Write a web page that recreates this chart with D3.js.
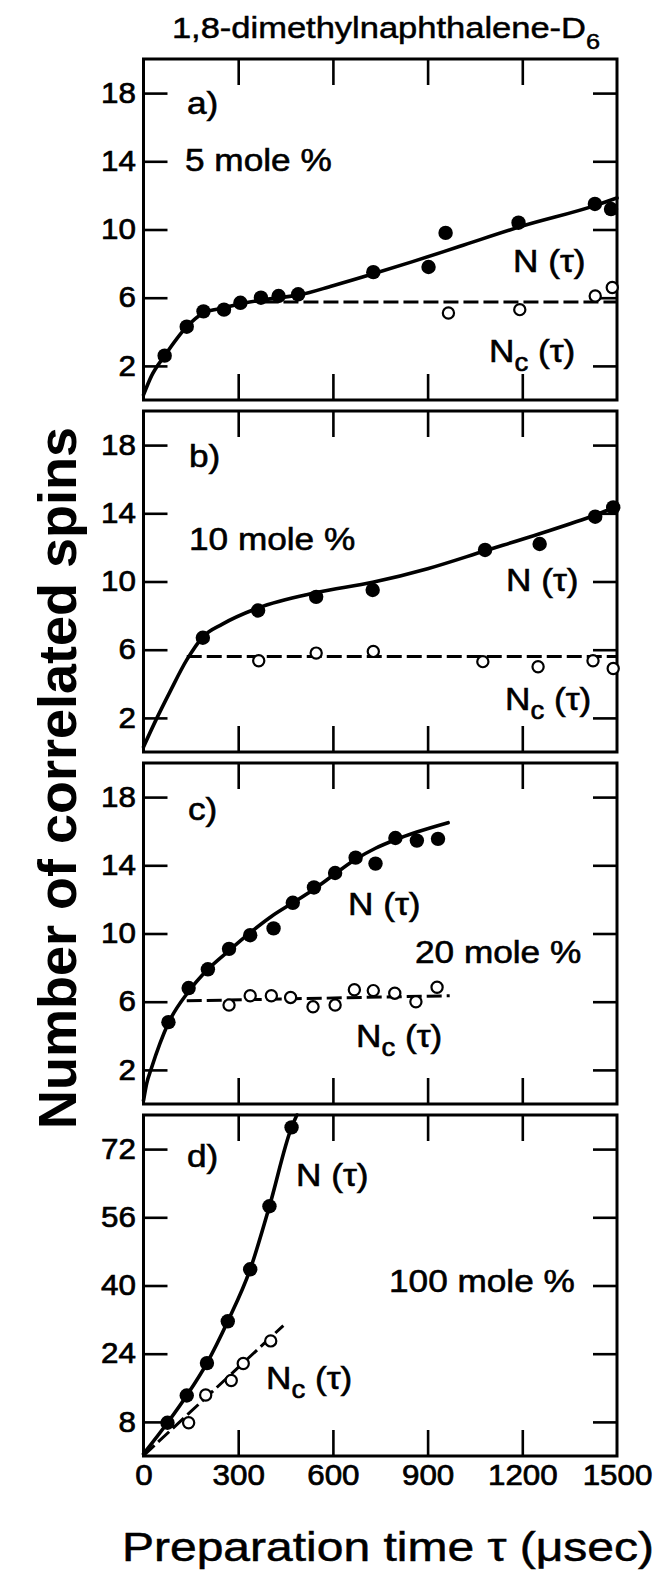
<!DOCTYPE html>
<html><head><meta charset="utf-8">
<script src="https://cdn.jsdelivr.net/npm/d3@7"></script>
<style>
html,body{margin:0;padding:0;background:#fff;}
svg text{font-family:"Liberation Sans",Arial,Helvetica,sans-serif;fill:#000;}
</style></head>
<body>
<svg id="chart" width="662" height="1581"></svg>
<script>
// ---------------- data ----------------
const xTickValues = [300, 600, 900, 1200];
const xTickLabels = [0, 300, 600, 900, 1200, 1500];
const yTicksSmall = [2, 6, 10, 14, 18];
const yTicksLarge = [8, 24, 40, 56, 72];
const panelLetters = ["a)", "b)", "c)", "d)"];
const concLabels = ["5 mole %", "10 mole %", "20 mole %", "100 mole %"];

// panel a (5 mole %)
const tauA_N = [67, 137, 190, 255, 307, 372, 428, 490, 728, 903, 957, 1188, 1430, 1481];
const valA_N = [2.6, 4.3, 5.2, 5.3, 5.7, 6.0, 6.1, 6.2, 7.5, 7.8, 9.8, 10.4, 11.5, 11.2];
const tauA_Nc = [966, 1192, 1431, 1485];
const valA_Nc = [5.1, 5.3, 6.1, 6.6];
const tauA_fit = [0, 25, 67, 137, 190, 255, 307, 372, 430, 490, 600, 728, 850, 1000, 1200, 1430, 1500];
const valA_fit = [0.3, 1.4, 2.6, 4.3, 5.1, 5.4, 5.65, 5.85, 6.0, 6.15, 6.7, 7.4, 8.1, 9.0, 10.2, 11.4, 11.85];
const tauA_dash = [380, 1500];
const valA_dash = [5.75, 5.75];

// panel b (10 mole %)
const tauB_N = [188, 363, 547, 726, 1082, 1255, 1431, 1488];
const valB_N = [6.7, 8.3, 9.1, 9.5, 11.85, 12.2, 13.8, 14.35];
const tauB_Nc = [365, 547, 728, 1075, 1250, 1424, 1488];
const valB_Nc = [5.35, 5.8, 5.9, 5.3, 5.0, 5.35, 4.9];
const tauB_fit = [0, 40, 83, 137, 188, 250, 363, 547, 726, 900, 1082, 1255, 1431, 1500];
const valB_fit = [0.3, 1.9, 3.5, 5.4, 6.75, 7.5, 8.45, 9.35, 9.95, 10.75, 11.8, 12.8, 13.9, 14.4];
const tauB_dash = [137, 1500];
const valB_dash = [5.6, 5.6];

// panel c (20 mole %)
const tauC_N = [79, 143, 204, 271, 338, 412, 473, 540, 607, 672, 735, 798, 866, 933];
const valC_N = [4.8, 6.8, 7.9, 9.1, 9.9, 10.3, 11.8, 12.7, 13.55, 14.45, 14.1, 15.6, 15.45, 15.55];
const tauC_Nc = [271, 338, 405, 466, 537, 607, 668, 728, 796, 863, 930];
const valC_Nc = [5.8, 6.35, 6.35, 6.25, 5.7, 5.8, 6.7, 6.65, 6.5, 6.0, 6.85];
const tauC_fit = [0, 10, 25, 79, 143, 204, 271, 338, 405, 473, 540, 607, 672, 735, 798, 866, 965];
const valC_fit = [0.2, 1.2, 2.1, 4.75, 6.6, 7.9, 9.0, 10.05, 11.0, 11.8, 12.6, 13.5, 14.35, 15.0, 15.5, 15.95, 16.5];
const tauC_dash = [137, 970];
const valC_dash = [6.05, 6.35];

// panel d (100 mole %)
const tauD_N = [76, 137, 201, 267, 338, 399, 469];
const valD_N = [7.8, 14.2, 21.8, 31.6, 43.8, 58.6, 77.1];
const tauD_Nc = [143, 197, 278, 316, 403];
const valD_Nc = [7.8, 14.3, 17.7, 21.7, 27.0];
const tauD_fit = [0, 76, 137, 201, 267, 338, 399, 469, 486];
const valD_fit = [0.5, 7.8, 14.2, 21.8, 31.6, 43.8, 58.6, 77.1, 80];
const tauD_dash = [0, 443];
const valD_dash = [0.1, 30.6];

// ---------------- build ----------------
const zip = (a, b) => a.map((v, i) => [v, b[i]]);
const panels = [
  {N: zip(tauA_N, valA_N), Nc: zip(tauA_Nc, valA_Nc), fit: zip(tauA_fit, valA_fit), dash: zip(tauA_dash, valA_dash), ymax: 20, ticks: yTicksSmall,
   ann: {letter:[187,55], conc:[185,112], N:[513,213], Nc:[489,303]}},
  {N: zip(tauB_N, valB_N), Nc: zip(tauB_Nc, valB_Nc), fit: zip(tauB_fit, valB_fit), dash: zip(tauB_dash, valB_dash), ymax: 20, ticks: yTicksSmall,
   ann: {letter:[189,56], conc:[189,139], N:[506,180], Nc:[505,299]}},
  {N: zip(tauC_N, valC_N), Nc: zip(tauC_Nc, valC_Nc), fit: zip(tauC_fit, valC_fit), dash: zip(tauC_dash, valC_dash), ymax: 20, ticks: yTicksSmall,
   ann: {letter:[188,57], conc:[415,200], N:[348,152], Nc:[356,284]}},
  {N: zip(tauD_N, valD_N), Nc: zip(tauD_Nc, valD_Nc), fit: zip(tauD_fit, valD_fit), dash: zip(tauD_dash, valD_dash), ymax: 80, ticks: yTicksLarge,
   ann: {letter:[187,52], conc:[389,177], N:[296,71], Nc:[266,274]}}
];

const svg = d3.select("#chart");
svg.append("rect").attr("width", 662).attr("height", 1581).attr("fill", "#fff");

const left = 143.5, right = 617;
const x = d3.scaleLinear().domain([0, 1500]).range([left, right]);
const pTop0 = 59, pStep = 352, pH = 341;
const SX = 1.1; // horizontal stretch of the scanned lettering
const FONT = '"Liberation Sans",Arial,sans-serif';

function label(g, px, py, size, sx) {
  return g.append("text")
    .attr("transform", `translate(${px},${py}) scale(${sx},1)`)
    .attr("font-size", size)
    .attr("stroke", "#000").attr("stroke-width", 0.6);
}
const styleTickText = s => s.selectAll("text")
  .attr("font-size", 29).attr("font-family", FONT)
  .attr("stroke", "#000").attr("stroke-width", 0.7)
  .attr("transform", "scale(1.08,1)");

panels.forEach((p, i) => {
  const top = pTop0 + i * pStep, bottom = top + pH;
  const y = d3.scaleLinear().domain([0, p.ymax]).range([bottom, top]);
  const g = svg.append("g");

  const styleAxis = sel => {
    sel.select(".domain").remove();
    sel.selectAll(".tick line").attr("stroke", "#000").attr("stroke-width", 2.6);
  };
  g.append("g").attr("transform", `translate(${left},0)`)
    .call(d3.axisLeft(y).tickValues(p.ticks).tickSize(-24).tickPadding(7))
    .call(styleAxis)
    .call(styleTickText);
  g.append("g").attr("transform", `translate(${right},0)`)
    .call(d3.axisRight(y).tickValues(p.ticks).tickSize(-24).tickFormat(""))
    .call(styleAxis);
  g.append("g").attr("transform", `translate(0,${top})`)
    .call(d3.axisTop(x).tickValues(xTickValues).tickSize(-26).tickFormat(""))
    .call(styleAxis);
  g.append("g").attr("transform", `translate(0,${bottom})`)
    .call(d3.axisBottom(x).tickValues(xTickValues).tickSize(-26).tickFormat(""))
    .call(styleAxis);
  if (i === 3) {
    g.append("g").attr("transform", `translate(0,${bottom})`)
      .call(d3.axisBottom(x).tickValues(xTickLabels).tickSize(0).tickPadding(8).tickFormat(d3.format("d")))
      .call(s => s.select(".domain").remove())
      .call(styleTickText);
  }

  // frame
  g.append("rect").attr("x", left).attr("y", top).attr("width", right - left).attr("height", pH)
    .attr("fill", "none").attr("stroke", "#000").attr("stroke-width", 3);

  // curves
  const line = d3.line().x(d => x(d[0])).y(d => y(d[1])).curve(d3.curveMonotoneX);
  g.append("path").datum(p.dash).attr("d", d3.line().x(d => x(d[0])).y(d => y(d[1])))
    .attr("fill", "none").attr("stroke", "#000").attr("stroke-width", 3)
    .attr("stroke-dasharray", "15,5");
  g.append("path").datum(p.fit).attr("d", line)
    .attr("fill", "none").attr("stroke", "#000").attr("stroke-width", 3.6)
    .attr("stroke-linecap", "round");

  // points
  g.selectAll(".nc").data(p.Nc).join("circle")
    .attr("cx", d => x(d[0])).attr("cy", d => y(d[1])).attr("r", 5.6)
    .attr("fill", "#fff").attr("stroke", "#000").attr("stroke-width", 2.2);
  g.selectAll(".n").data(p.N).join("circle")
    .attr("cx", d => x(d[0])).attr("cy", d => y(d[1])).attr("r", 7.2)
    .attr("fill", "#000");

  // annotations
  const a = p.ann;
  label(g, a.letter[0], top + a.letter[1], 32, SX).text(panelLetters[i]);
  label(g, a.conc[0], top + a.conc[1], 32, SX).text(concLabels[i]);
  label(g, a.N[0], top + a.N[1], 32, SX).text("N (\u03C4)");
  const t = label(g, a.Nc[0], top + a.Nc[1], 32, SX);
  t.append("tspan").text("N");
  t.append("tspan").attr("font-size", 25).attr("dy", 9).text("c");
  t.append("tspan").attr("dy", -9).text(" (\u03C4)");
});

// title
const title = svg.append("text")
  .attr("transform", `translate(386,38) scale(1.15,1)`)
  .attr("text-anchor", "middle").attr("font-size", 30)
  .attr("stroke", "#000").attr("stroke-width", 0.5);
title.append("tspan").text("1,8-dimethylnaphthalene-D");
title.append("tspan").attr("font-size", 22).attr("dy", 11).text("6");

// y axis title
svg.append("text")
  .attr("transform", "translate(76,778) rotate(-90)")
  .attr("text-anchor", "middle").attr("font-size", 54).attr("font-weight", "bold")
  .text("Number of correlated spins");

// x axis title
svg.append("text")
  .attr("transform", "translate(388,1561) scale(1.2,1)")
  .attr("text-anchor", "middle").attr("font-size", 40)
  .attr("stroke", "#000").attr("stroke-width", 0.5)
  .text("Preparation time \u03C4 (\u03BCsec)");
</script>
</body></html>
